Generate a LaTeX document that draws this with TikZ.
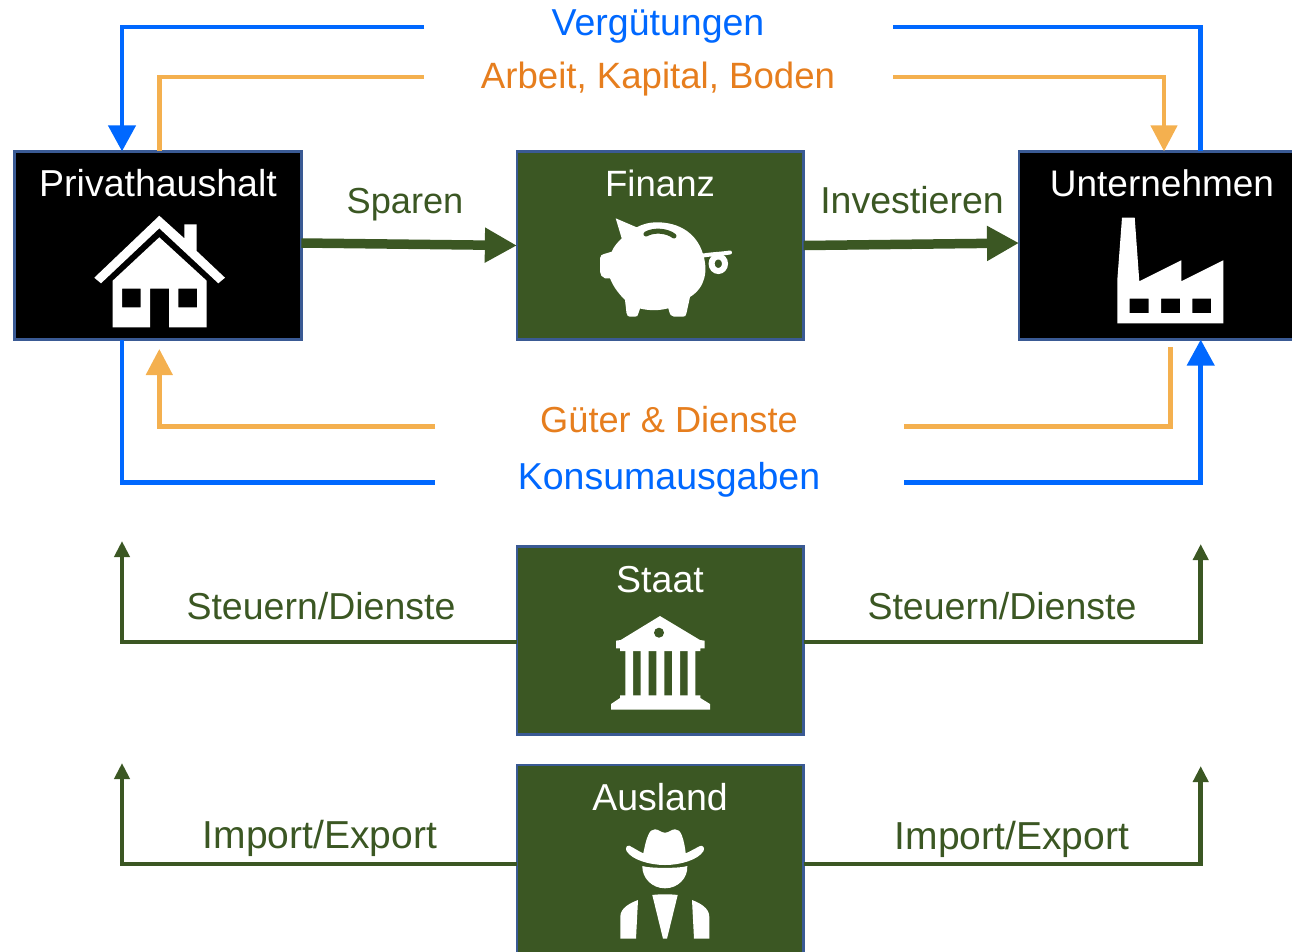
\documentclass[tikz,border=0pt]{standalone}
\usepackage{fontspec}
\setmainfont{Liberation Sans}
\usetikzlibrary{arrows.meta}
\definecolor{gruen}{HTML}{3B5723}
\definecolor{rahmen}{HTML}{3A5A94}
\definecolor{blau}{HTML}{0068FF}
\definecolor{orangeL}{HTML}{F4B04F}
\definecolor{orangeT}{HTML}{E67E1E}
\newcommand{\fs}[1]{\fontsize{#1}{40}\selectfont}
\tikzset{
  x=1pt,y=-1pt,
  box/.style={draw=rahmen,line width=2.7pt,rectangle,inner sep=0pt,outer sep=0pt},
  greenbox/.style={box,fill=gruen,minimum width=286.7pt,minimum height=188.3pt},
  blackbox/.style={box,fill=black,minimum height=188.3pt},
  title/.style={text=white,font=\fs{37.5},anchor=base,inner sep=0pt},
  lab/.style={font=\fs{37.5},anchor=base,inner sep=0pt},
  greenlab/.style={lab,text=gruen},
  bluelab/.style={lab,text=blau},
  orangelab/.style={lab,text=orangeT},
  blueline/.style={draw=blau,line width=4.6pt},
  orangeline/.style={draw=orangeL,line width=4.6pt},
  greenline/.style={draw=gruen,line width=4.5pt,-{Triangle[width=15pt,length=16pt]}},
  greenthick/.style={draw=gruen,line width=9.5pt,-{Triangle[width=33pt,length=32pt]}},
  bigblue/.style={-{Triangle[width=27pt,length=26pt]}},
  bigorange/.style={-{Triangle[width=26pt,length=26pt]}},
  icon/.style={fill=white,draw=none},
}
\begin{document}
\begin{tikzpicture}
\useasboundingbox (0,0) rectangle (1292,951);
\clip (0,0) rectangle (1292,951);

% boxes
\node[blackbox,minimum width=286.7pt] (haushalt) at (158,245.5) {};
\node[greenbox] (finanz) at (660.2,245.5) {};
\node[blackbox,minimum width=300pt] (firma) at (1169,245.5) {};
\node[greenbox] (staat) at (660.2,640.5) {};
\node[greenbox,minimum height=220pt] (ausland) at (660.2,875) {};

% titles
\node[title] (tHaushalt) at (158,196.5) {Privathaushalt};
\node[title,font=\fs{36.6}] (tFinanz) at (660,196) {Finanz};
\node[title,font=\fs{37}] (tFirma) at (1162,196) {Unternehmen};
\node[title] (tStaat) at (660,592) {Staat};
\node[title] (tAusland) at (660,810) {Ausland};

% labels
\node[bluelab] (lVerg) at (658,35) {Vergütungen};
\node[orangelab,font=\fs{36.6}] (lArbeit) at (658,88) {Arbeit, Kapital, Boden};
\node[greenlab,font=\fs{36.2}] (lSparen) at (405,213) {Sparen};
\node[greenlab] (lInvest) at (912,213) {Investieren};
\node[orangelab,font=\fs{36.2}] (lGueter) at (669,432) {Güter \& Dienste};
\node[bluelab] (lKonsum) at (669,489) {Konsumausgaben};
\node[greenlab] (lSteuerL) at (321,619) {Steuern/Dienste};
\node[greenlab] (lSteuerR) at (1002,619) {Steuern/Dienste};
\node[greenlab,font=\fs{39}] (lImportL) at (320,848) {Import/Export};
\node[greenlab,font=\fs{39}] (lImportR) at (1012,849) {Import/Export};

% guide coordinates
\coordinate (xBlueL) at (122,0);
\coordinate (xOrangeL) at (159.3,0);
\coordinate (xBlueR) at (1200.7,0);
\coordinate (xOrangeTop) at (1164,0);
\coordinate (vergL) at (424,27);
\coordinate (vergR) at (893,27);
\coordinate (arbeitL) at (424,77);
\coordinate (arbeitR) at (893,77);
\coordinate (gueterL) at (435,426.5);
\coordinate (gueterR) at (904,426.5);
\coordinate (konsumL) at (435,482.5);
\coordinate (konsumR) at (904,482.5);
\coordinate (hGood) at (159.3,349);
\coordinate (fGood) at (1170.5,347);
\coordinate (yStaat) at (0,642);
\coordinate (yAusland) at (0,864);
\coordinate (upStaatL) at (122,541);
\coordinate (upStaatR) at (1200.7,544);
\coordinate (upAusL) at (122,763);
\coordinate (upAusR) at (1200.7,766);

% connectors
\draw[blueline,bigblue] (vergL) -| (haushalt.north -| xBlueL);
\draw[blueline] (firma.north -| xBlueR) |- (vergR);
\draw[orangeline] (haushalt.north -| xOrangeL) |- (arbeitL);
\draw[orangeline,bigorange] (arbeitR) -| (firma.north -| xOrangeTop);
\draw[orangeline,bigorange] (gueterL) -| (hGood);
\draw[orangeline] (fGood) |- (gueterR);
\draw[blueline] (haushalt.south -| xBlueL) |- (konsumL);
\draw[blueline,bigblue] (konsumR) -| (firma.south -| xBlueR);
\draw[greenthick] ([yshift=2.5pt]haushalt.east) -- (finanz.west);
\draw[greenthick] (finanz.east) -- ([yshift=2.5pt]firma.west);
\draw[greenline] (staat.west |- yStaat) -| (upStaatL);
\draw[greenline] (staat.east |- yStaat) -| (upStaatR);
\draw[greenline] (ausland.west |- yAusland) -| (upAusL);
\draw[greenline] (ausland.east |- yAusland) -| (upAusR);

% house
\fill[icon] (159.3,215.7) -- (184.3,238.3) -- (184.3,224.3) -- (196.7,224.3) -- (196.7,251) -- (225,277.7) -- (218.3,283.3) -- (159.3,228.3) -- (101,283.3) -- (94.3,277.7) -- cycle;
\fill[icon,even odd rule] (159.3,237.3) -- (206.7,280.7) -- (206.7,327.3) -- (169,327.3) -- (169,288.7) -- (150,288.7) -- (150,327.3) -- (112.7,327.3) -- (112.7,280.7) -- cycle
  (122,288.7) rectangle (140.7,307.3) (178.3,288.7) rectangle (197,307.3);

% piggy bank
\fill[icon] (615.7,218.3) -- (636.7,227.3) .. controls (644,223.5) and (650,222.3) .. (657,222.3)
  .. controls (680,222.3) and (697,234) .. (703,254) .. controls (708,270) and (706,287) .. (690,297)
  -- (686.5,313) .. controls (686,316) and (685,316.7) .. (683,316.7) -- (674,316.7) .. controls (671,316.7) and (670,315) .. (668.3,308.3)
  .. controls (660,310.5) and (650,311) .. (640,308.5) -- (638.5,313) .. controls (638,316) and (637,316.7) .. (635,316.7)
  -- (630,316.7) .. controls (628,316.7) and (627,315.5) .. (626.5,313) -- (625,300)
  .. controls (618,293) and (613,286) .. (610,278.3) -- (605,278.3) .. controls (602,277) and (600,275) .. (600,271.7)
  -- (600,258.3) .. controls (600,255.5) and (602,254.5) .. (604,254) -- (611.7,251.7) .. controls (614,246) and (618,242) .. (621.7,238.3) -- cycle;
\draw[gruen,line width=5pt,line cap=round] (646,234) .. controls (654,229.5) and (667,230.5) .. (674,236);
\draw[white,line width=4pt,line cap=round] (703.3,255.5) .. controls (712,254) and (720,254) .. (730,252.5);
\draw[white,line width=6pt] (718.3,263.7) ellipse [x radius=6.7pt,y radius=7.3pt];

% factory
\fill[icon,even odd rule] (1117.3,323.3) -- (1117.3,280) -- (1122,217.7) -- (1134.7,217.7) -- (1139.3,281.3) -- (1181.3,260.3) -- (1181.3,281.3) -- (1223.3,260.3) -- (1223.3,323.3) -- cycle
  (1129.7,298.7) rectangle (1148.7,313) (1161,298.7) rectangle (1180,313) (1192.3,298.7) rectangle (1211,313);

% temple
\fill[icon] (660,616) -- (700,640) -- (704.7,640.7) -- (704.7,648.3) -- (700.3,648.3) -- (700.3,651) -- (620,651) -- (620,648.3) -- (616,648.3) -- (616,640.7) -- (620.7,640) -- cycle;
\fill[gruen] (659,632.7) circle [radius=5pt];
\fill[icon] (625.3,651) rectangle (633,696) (640.7,651) rectangle (648.7,696) (656.3,651) rectangle (664.3,696) (672,651) rectangle (680,696) (687.7,651) rectangle (695.3,696);
\fill[icon] (620,695.3) -- (700.3,695.3) -- (700.3,698) -- (710,704) -- (710,709.7) -- (611,709.7) -- (611,704) -- (620,698) -- cycle;

% cowboy
\fill[icon] (629.3,845.7) .. controls (634,848) and (639,851.5) .. (643.3,853.3) .. controls (645,845) and (646,840) .. (648.3,835)
  .. controls (650,831) and (652,829.3) .. (655,829.3) .. controls (659,829.3) and (661,832.7) .. (665,832.7) .. controls (669,832.7) and (671,829.3) .. (675,829.3)
  .. controls (678,829.3) and (680,831) .. (681.7,835) .. controls (684,841) and (685,847) .. (685.7,853.3) .. controls (690,851.5) and (696,848) .. (700,846)
  .. controls (703,845) and (705,848) .. (703.5,851) .. controls (698,860) and (680,865) .. (665,865) .. controls (650,865) and (632,860) .. (626.5,851) .. controls (625,848) and (627,845) .. (629.3,845.7) -- cycle;
\fill[icon] (642.3,866) .. controls (650,868.5) and (680,868.5) .. (687.3,866) .. controls (688,878) and (678,888.3) .. (665,888.3) .. controls (652,888.3) and (642,878) .. (642.3,866) -- cycle;
\fill[icon] (652.3,895) .. controls (660,894) and (670,894) .. (677.7,895) -- (667,938.7) -- (663,938.7) -- cycle;
\fill[icon] (638,900) -- (636,938.7) -- (620.3,938.7) -- (620.3,916.7) .. controls (620.3,908) and (630,903) .. (638,900) -- cycle;
\fill[icon] (692,900) -- (694,938.7) -- (709.3,938.7) -- (709.3,916.7) .. controls (709.3,908) and (700,903) .. (692,900) -- cycle;
\end{tikzpicture}
\end{document}
